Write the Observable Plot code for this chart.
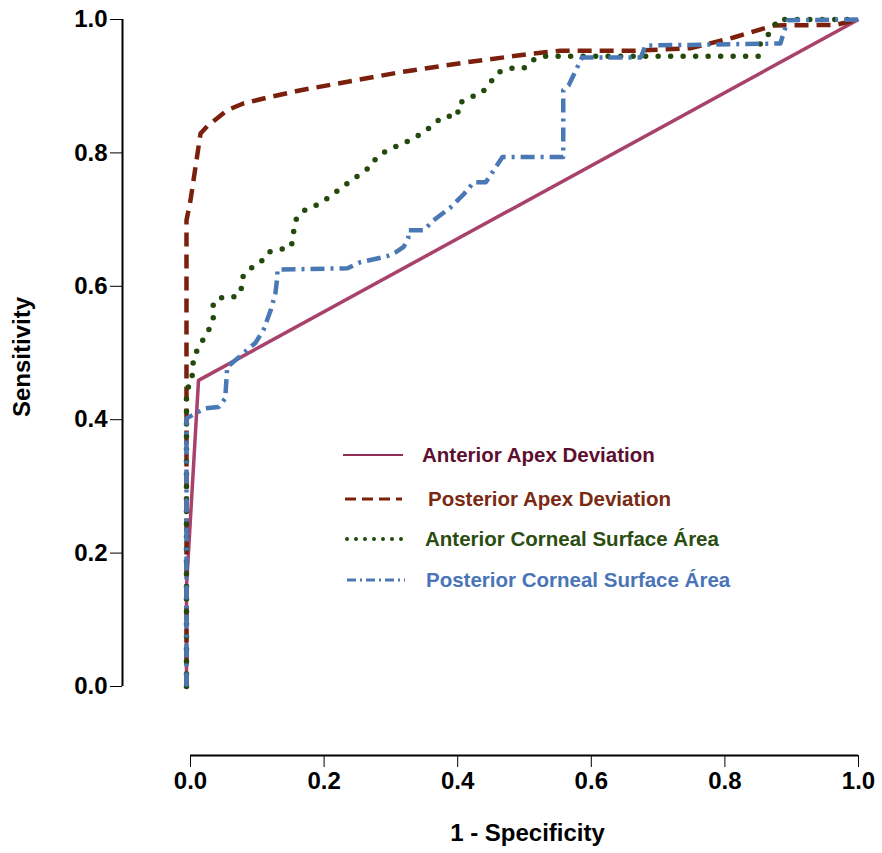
<!DOCTYPE html>
<html><head><meta charset="utf-8">
<script src="https://cdn.jsdelivr.net/npm/d3@7"></script>
<script src="https://cdn.jsdelivr.net/npm/@observablehq/plot@0.6"></script>
<style>
body{margin:0;background:#fff;}
#chart{position:relative;width:882px;height:853px;}
#legend{position:absolute;left:0;top:0;pointer-events:none;}
</style></head><body><div id="chart"></div>
<script>
const xTicks = [0, 0.2, 0.4, 0.6, 0.8, 1.0];
const yTicks = [0, 0.2, 0.4, 0.6, 0.8, 1.0];
const xLabel = "1 - Specificity";
const yLabel = "Sensitivity";
const seriesNames = ["Anterior Apex Deviation", "Posterior Apex Deviation", "Anterior Corneal Surface Área", "Posterior Corneal Surface Área"];
const lineColors = ["#a8416b", "#7b200c", "#234a0c", "#4a78b5"];
const textColors = ["#5c0f2f", "#7a2a12", "#2b4d12", "#4a74b8"];

// [1 - specificity, sensitivity]
const anteriorApex = [[-0.006,0],[-0.006,0.15],[0.012,0.459],[1,1]];
const posteriorApex = [[-0.006,0],[-0.006,0.699],[0,0.729],[0.015,0.829],[0.025,0.840],[0.055,0.864],[0.079,0.874],[0.115,0.883],[0.165,0.894],[0.314,0.921],[0.415,0.936],[0.513,0.949],[0.554,0.953],[0.663,0.953],[0.749,0.957],[0.813,0.973],[0.873,0.991],[0.966,0.992],[1,1]];
const anteriorArea = [[-0.006,0],[-0.006,0.444],[0.0025,0.459],[0.0025,0.479],[0.0075,0.4995],[0.0165,0.516],[0.027,0.534],[0.034,0.552],[0.034,0.573],[0.042,0.583],[0.063,0.583],[0.076,0.591],[0.076,0.611],[0.087,0.625],[0.105,0.636],[0.116,0.651],[0.133,0.655],[0.151,0.659],[0.154,0.680],[0.158,0.700],[0.169,0.713],[0.187,0.721],[0.205,0.732],[0.221,0.744],[0.237,0.756],[0.269,0.779],[0.279,0.794],[0.296,0.805],[0.316,0.813],[0.334,0.822],[0.352,0.833],[0.367,0.846],[0.380,0.855],[0.400,0.855],[0.401,0.874],[0.419,0.883],[0.437,0.891],[0.449,0.906],[0.461,0.921],[0.479,0.927],[0.499,0.927],[0.512,0.939],[0.528,0.945],[0.850,0.945],[0.853,0.964],[0.871,0.984],[0.879,1.0],[1,1]];
const posteriorArea = [[-0.006,0],[-0.006,0.402],[0.022,0.417],[0.042,0.419],[0.052,0.432],[0.055,0.479],[0.067,0.489],[0.097,0.515],[0.109,0.534],[0.120,0.564],[0.127,0.589],[0.130,0.614],[0.130,0.625],[0.235,0.627],[0.254,0.636],[0.294,0.645],[0.307,0.651],[0.319,0.659],[0.326,0.672],[0.326,0.684],[0.349,0.684],[0.364,0.699],[0.389,0.718],[0.409,0.738],[0.424,0.756],[0.442,0.756],[0.454,0.774],[0.467,0.794],[0.558,0.794],[0.558,0.894],[0.566,0.901],[0.586,0.943],[0.674,0.943],[0.681,0.961],[0.883,0.964],[0.894,0.999],[1,1]];

const series = [anteriorApex, posteriorApex, anteriorArea, posteriorArea];
const styles = [
  {strokeWidth: 3.5, strokeDasharray: null, strokeLinecap: "butt"},
  {strokeWidth: 4.5, strokeDasharray: "14 8", strokeLinecap: "butt"},
  {strokeWidth: 5.5, strokeDasharray: "0 12.5", strokeLinecap: "round"},
  {strokeWidth: 4.5, strokeDasharray: "14 6 3 6", strokeLinecap: "butt"}
];
const legendStyles = [
  {w: 2, dash: null, cap: "butt"},
  {w: 3.2, dash: "11 6", cap: "butt"},
  {w: 4, dash: "0 9", cap: "round"},
  {w: 3.2, dash: "9 4 2 4", cap: "butt"}
];

const font = "'Liberation Sans', Arial, Helvetica, sans-serif";
const fmt = d => d.toFixed(1);

const plot = Plot.plot({
  width: 882, height: 853,
  marginLeft: 122, marginRight: 24, marginTop: 19, marginBottom: 98,
  x: {domain: [0, 1], insetLeft: 68, ticks: xTicks, tickSize: 12, tickPadding: 4, tickFormat: fmt, label: null},
  y: {domain: [0, 1], insetBottom: 69, ticks: yTicks, tickSize: 12, tickPadding: 3, tickFormat: fmt, label: null},
  style: {fontFamily: font, fontWeight: "bold", fontSize: "24px", color: "#000", background: "#fff"},
  marks: [
    Plot.ruleX([0], {y1: 0, y2: 1, dx: -68, strokeWidth: 2, stroke: "#000"}),
    Plot.ruleY([0], {x1: 0, x2: 1, dy: 69, strokeWidth: 2, stroke: "#000"}),
    Plot.text([xLabel], {text: d => d, x: () => 0.5, frameAnchor: "bottom", textAnchor: "middle", dx: 3, dy: 78, lineAnchor: "middle", fontSize: 24, fontWeight: "bold", fill: "#000"}),
    Plot.text([yLabel], {text: d => d, y: () => 0.5, frameAnchor: "left", textAnchor: "middle", rotate: -90, dx: -100, dy: 4, lineAnchor: "middle", fontSize: 24, fontWeight: "bold", fill: "#000"}),
    ...series.map((s, i) => Plot.line(s, {
      x: d => d[0], y: d => d[1], stroke: lineColors[i],
      strokeWidth: styles[i].strokeWidth, strokeDasharray: styles[i].strokeDasharray,
      strokeLinecap: styles[i].strokeLinecap, strokeLinejoin: "round"
    }))
  ]
});
d3.select(plot).selectAll('g[aria-label="x-axis"], g[aria-label="y-axis"]').attr("stroke-width", 2);
d3.select(plot).selectAll('g[aria-label="x-axis"] line, g[aria-label="y-axis"] line').attr("stroke-width", 2);
document.getElementById("chart").appendChild(plot);

// Legend overlay
const legendRows = [455, 499, 539, 580];
const legendTextX = [422, 428, 425, 426];
const swatchX = [[343, 403], [345, 402], [347, 402], [347, 405]];
const lg = d3.select("#chart").append("svg").attr("id", "legend").attr("width", 882).attr("height", 853);
seriesNames.forEach((name, i) => {
  const ls = legendStyles[i];
  lg.append("line").attr("x1", swatchX[i][0]).attr("x2", swatchX[i][1])
    .attr("y1", legendRows[i]).attr("y2", legendRows[i])
    .attr("stroke", i === 0 ? "#8e2f58" : lineColors[i]).attr("stroke-width", ls.w)
    .attr("stroke-dasharray", ls.dash).attr("stroke-linecap", ls.cap);
  lg.append("text").attr("x", legendTextX[i]).attr("y", legendRows[i] + 7.3)
    .attr("font-family", font).attr("font-weight", "bold").attr("font-size", 20.5)
    .attr("fill", textColors[i]).text(name);
});
</script>
</body></html>
